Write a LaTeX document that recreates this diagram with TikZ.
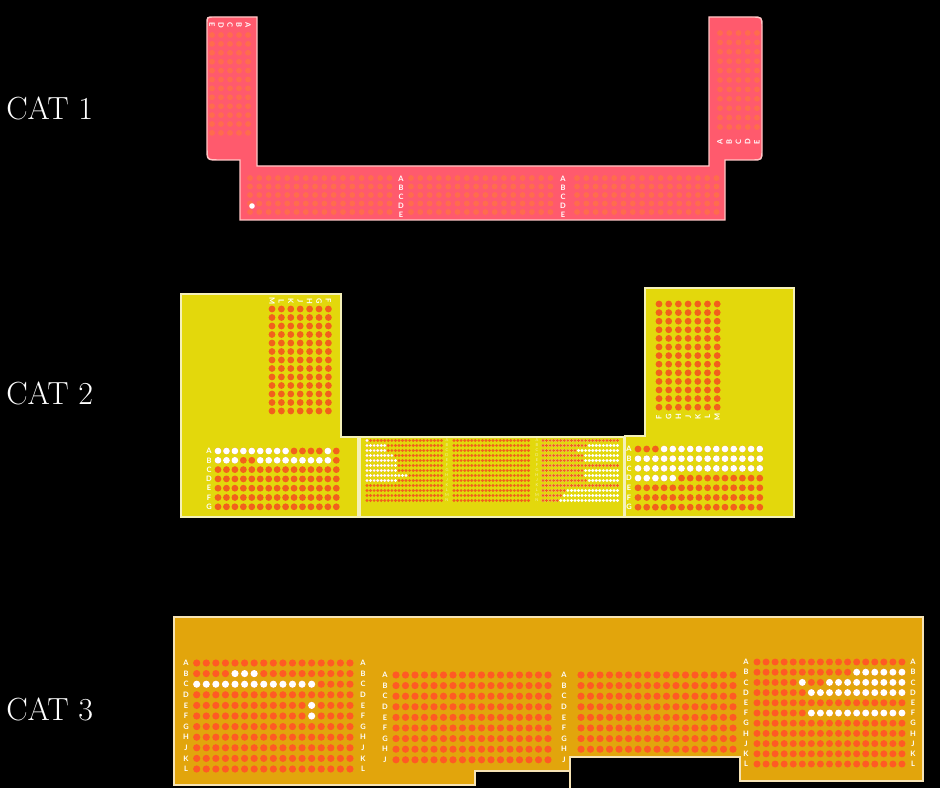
\documentclass[tikz,border=0pt]{standalone}
\usepackage{fontspec}
\setsansfont{Lato}
\definecolor{bg}{HTML}{000000}
\definecolor{cone}{HTML}{FF5A6D}
\definecolor{conedot}{HTML}{FF6C4C}
\definecolor{coneedge}{HTML}{FFC6C6}
\definecolor{ctwo}{HTML}{E3D80C}
\definecolor{ctwodot}{HTML}{F2601C}
\definecolor{ctwoedge}{HTML}{F4F0B8}
\definecolor{cthree}{HTML}{E2A50C}
\definecolor{cthreedot}{HTML}{FF5A24}
\definecolor{cthreeedge}{HTML}{F6E3B5}
\definecolor{faintlab}{HTML}{F4F0A0}
\begin{document}
\begin{tikzpicture}[x=0.75pt,y=-0.75pt,
  lab/.style={text=white,font=\fontsize{5.6}{5}\selectfont\sffamily\bfseries,inner sep=0},
  flab/.style={text=faintlab,font=\fontsize{3}{3}\selectfont\sffamily,inner sep=0},
  cat/.style={text=white,font=\fontsize{24}{24}\selectfont,anchor=west,inner sep=0},
  area/.style={line width=1.1}]
\useasboundingbox (0,0) rectangle (940,788);
\fill[bg] (0,0) rectangle (940,788);

% ---------- labels
\node[cat] (t1) at (6,108) {CAT 1};
\node[cat] (t2) at (6,393) {CAT 2};
\node[cat] (t3) at (6,709) {CAT 3};

% ---------- CAT 1
\path[area,fill=cone,draw=coneedge]
  (207,24) .. controls (207,17) .. (214,17) -- (257,17) -- (257,166) -- (709,166) -- (709,17)
  -- (752,17) .. controls (762,17) .. (762,27) -- (762,150) .. controls (762,160) .. (752,160)
  -- (725,160) -- (725,220) -- (240,220) -- (240,160) -- (219,160) .. controls (207,160) .. (207,148) -- cycle;
\foreach \i in {0,...,4} \foreach \j in {0,...,11} \fill[conedot] (212+9*\i,35+8.9*\j) circle (2.9);
\foreach \i in {0,...,4} \foreach \j in {0,...,10} \fill[conedot] (720+9.25*\i,33+9.4*\j) circle (2.9);
\foreach \j in {0,...,4} {
  \foreach \i in {0,...,15} {
    \fill[conedot] (250+9.3*\i,178+8.5*\j) circle (2.9);
    \fill[conedot] (411+9.3*\i,178+8.5*\j) circle (2.9);
    \fill[conedot] (577+9.3*\i,178+8.5*\j) circle (2.9);
  }
}
\fill[white] (252,206) circle (2.8);
\foreach \l [count=\k from 0] in {A,B,C,D,E} {
  \node[lab] (oa\k) at (401,179+9*\k) {\l};
  \node[lab] (ob\k) at (563,179+9*\k) {\l};
  \node[lab,rotate=90] (oc\k) at (720+9.25*\k,142) {\l};
}
\foreach \l [count=\k from 0] in {E,D,C,B,A}
  \node[lab,rotate=-90] (od\k) at (212+9*\k,25) {\l};

% ---------- CAT 2 left
\path[area,fill=ctwo,draw=ctwoedge] (181,294) -- (341,294) -- (341,437) -- (358,437) -- (358,517) -- (181,517) -- cycle;
\foreach \i in {0,...,6} \foreach \j in {0,...,12} \fill[ctwodot] (272+9.4*\i,309+8.5*\j) circle (3.4);
\foreach \l [count=\k from 0] in {M,L,K,J,H,G,F}
  \node[lab,rotate=-90] (ta\k) at (272+9.4*\k,301) {\l};
\foreach \i in {0,...,14} \foreach \j in {0,...,6} \fill[ctwodot] (218+8.45*\i,451+9.3*\j) circle (3.4);
\foreach \i in {0,...,8,13} \fill[white] (218+8.45*\i,451) circle (3.4);
\foreach \i in {0,1,2,5,6,...,13} \fill[white] (218+8.45*\i,460.3) circle (3.4);
\foreach \l [count=\k from 0] in {A,B,C,D,E,F,G}
  \node[lab] (tb\k) at (209,451+9.3*\k) {\l};

% ---------- CAT 2 middle
\path[area,fill=ctwo,draw=ctwoedge] (360,437) rectangle (624,517);
\foreach \i in {0,...,21} \foreach \j in {0,...,12} {
  \fill[ctwodot] (367+3.55*\i,440.5+5*\j) circle (1.6);
  \fill[ctwodot] (454+3.55*\i,440.5+5*\j) circle (1.6);
  \fill[white] (543+3.55*\i,440.5+5*\j) circle (1.6);
}
\foreach \w [count=\j from 0] in {1,6,6,8,9,9,9,12,9}
  \foreach \i in {1,...,\w} \fill[white] (367+3.55*\i-3.55,440.5+5*\j) circle (1.6);
\foreach \o [count=\j from 0] in {22,13,10,12,12,22,12,12,13,22,7,6,5}
  \foreach \i in {1,...,\o} \fill[ctwodot] (543+3.55*\i-3.55,440.5+5*\j) circle (1.6);
\foreach \l [count=\k from 0] in {A,B,C,D,E,F,G,H,J,K,L,M,N} {
  \node[flab] (tm\k) at (447,440.5+5*\k) {\l};
  \node[flab] (tn\k) at (537,440.5+5*\k) {\l};
}

% ---------- CAT 2 right
\path[area,fill=ctwo,draw=ctwoedge] (645,288) -- (794,288) -- (794,517) -- (625,517) -- (625,436) -- (645,436) -- cycle;
\foreach \i in {0,...,6} \foreach \j in {0,...,12} \fill[ctwodot] (659+9.7*\i,304+8.6*\j) circle (3.4);
\foreach \l [count=\k from 0] in {F,G,H,J,K,L,M}
  \node[lab,rotate=90] (tc\k) at (659+9.7*\k,417) {\l};
\foreach \i in {0,...,14} \foreach \j in {0,...,6} \fill[ctwodot] (638+8.7*\i,449+9.7*\j) circle (3.4);
\foreach \i in {3,...,14} \fill[white] (638+8.7*\i,449) circle (3.4);
\foreach \i in {0,...,14} {
  \fill[white] (638+8.7*\i,458.7) circle (3.4);
  \fill[white] (638+8.7*\i,468.4) circle (3.4);
}
\foreach \i in {0,...,4} \fill[white] (638+8.7*\i,478.1) circle (3.4);
\foreach \l [count=\k from 0] in {A,B,C,D,E,F,G}
  \node[lab] (td\k) at (629,449+9.7*\k) {\l};

% ---------- CAT 3
\path[area,fill=cthree,draw=cthreeedge] (174,617) -- (923,617) -- (923,781) -- (740,781) -- (740,757)
  -- (570,757) -- (570,771) -- (475,771) -- (475,785) -- (174,785) -- cycle;
\coordinate (n1) at (570,771);
\coordinate (n2) at (570,790);
\draw[area,draw=cthreeedge] (n1) -- (n2);
% left block
\foreach \i in {0,...,16} \foreach \j in {0,...,10} \fill[cthreedot] (196.7+9.58*\i,663+10.6*\j) circle (3.6);
\foreach \i in {4,5,6} \fill[white] (196.7+9.58*\i,673.6) circle (3.6);
\foreach \i in {0,...,12} \fill[white] (196.7+9.58*\i,684.2) circle (3.6);
\fill[white] (196.7+9.58*12,705.4) circle (3.6);
\fill[white] (196.7+9.58*12,716) circle (3.6);
\foreach \l [count=\k from 0] in {A,B,C,D,E,F,G,H,J,K,L} {
  \node[lab] (ha\k) at (186,663+10.6*\k) {\l};
  \node[lab] (hb\k) at (363,663+10.6*\k) {\l};
}
% middle block
\foreach \i in {0,...,16} \foreach \j in {0,...,8} \fill[cthreedot] (396+9.5*\i,675+10.6*\j) circle (3.6);
\foreach \i in {0,...,16} \foreach \j in {0,...,7} \fill[cthreedot] (581+9.5*\i,675+10.6*\j) circle (3.6);
\foreach \l [count=\k from 0] in {A,B,C,D,E,F,G,H,J} {
  \node[lab] (hc\k) at (385,675+10.6*\k) {\l};
  \node[lab] (hd\k) at (564,675+10.6*\k) {\l};
}
% right block
\foreach \i in {0,...,16} \foreach \j in {0,...,10} \fill[cthreedot] (757+9.06*\i,662+10.2*\j) circle (3.5);
\foreach \i in {11,...,16} \fill[white] (757+9.06*\i,672.2) circle (3.5);
\foreach \i in {5,8,9,...,16} \fill[white] (757+9.06*\i,682.4) circle (3.5);
\foreach \i in {6,...,16} {
  \fill[white] (757+9.06*\i,692.6) circle (3.5);
  \fill[white] (757+9.06*\i,713) circle (3.5);
}
\foreach \l [count=\k from 0] in {A,B,C,D,E,F,G,H,J,K,L} {
  \node[lab] (he\k) at (746,662+10.2*\k) {\l};
  \node[lab] (hf\k) at (913,662+10.2*\k) {\l};
}
\end{tikzpicture}
\end{document}
